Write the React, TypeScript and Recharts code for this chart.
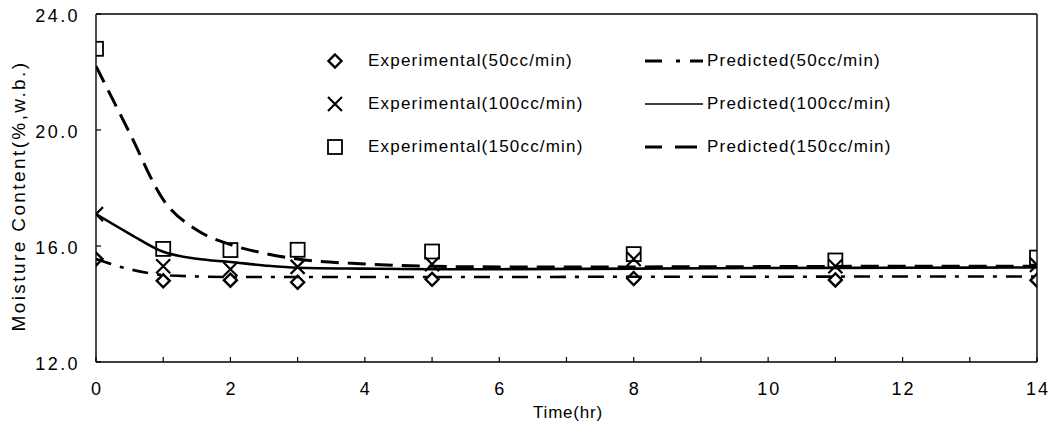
import { ComposedChart, Line, Scatter, XAxis, YAxis, ReferenceLine, Legend } from 'recharts';

// Sampling times (hr) for the measured points
const expTimes = [0, 1, 2, 3, 5, 8, 11, 14];
const exp50 = [15.55, 14.8, 14.82, 14.75, 14.85, 14.88, 14.83, 14.82];
const exp100 = [17.1, 15.3, 15.2, 15.28, 15.37, 15.55, 15.3, 15.35];
const exp150 = [22.8, 15.9, 15.86, 15.87, 15.81, 15.72, 15.5, 15.6];

// Model curves
const predTimes = [0, 0.5, 1, 1.5, 2, 2.5, 3, 4, 5, 6, 8, 10, 12, 14];
const pred50 = [15.55, 15.2, 15.0, 14.95, 14.93, 14.93, 14.93, 14.93, 14.93, 14.93, 14.94, 14.94, 14.95, 14.95];
const pred100 = [17.1, 16.42, 15.8, 15.56, 15.45, 15.33, 15.25, 15.22, 15.2, 15.2, 15.22, 15.24, 15.25, 15.26];
const pred150 = [22.2, 19.9, 17.6, 16.55, 16.05, 15.75, 15.55, 15.38, 15.3, 15.28, 15.28, 15.29, 15.3, 15.3];

const xTicks = [0, 1, 2, 3, 4, 5, 6, 7, 8, 9, 10, 11, 12, 13, 14];
const yTicks = [12, 16, 20, 24];

const expNames = ['Experimental(50cc/min)', 'Experimental(100cc/min)', 'Experimental(150cc/min)'];
const predNames = ['Predicted(50cc/min)', 'Predicted(100cc/min)', 'Predicted(150cc/min)'];

const toPoints = (xs: number[], ys: number[]) => xs.map((x, i) => ({ x, y: ys[i] }));

const FONT = '"Liberation Sans", Arial, sans-serif';

const Diamond = ({ cx, cy }: any) => (
  <polygon
    points={`${cx},${cy - 6.5} ${cx + 6.5},${cy} ${cx},${cy + 6.5} ${cx - 6.5},${cy}`}
    fill="none"
    stroke="#000"
    strokeWidth={2.4}
  />
);

const Cross = ({ cx, cy }: any) => (
  <path
    d={`M${cx - 7},${cy - 7}L${cx + 7},${cy + 7}M${cx + 7},${cy - 7}L${cx - 7},${cy + 7}`}
    stroke="#000"
    strokeWidth={2.2}
  />
);

const Square = ({ cx, cy }: any) => (
  <rect x={cx - 7} y={cy - 7} width={14} height={14} fill="none" stroke="#000" strokeWidth={1.8} />
);

const XTick = ({ x, y, payload }: any) => (
  <g>
    <line x1={x} x2={x} y1={y} y2={y - 5} stroke="#000" strokeWidth={1.2} />
    {payload.value % 2 === 0 && (
      <text x={x + 1} y={y + 27} textAnchor="middle" dominantBaseline="central" fontSize={18} letterSpacing={2} fill="#000" fontFamily={FONT}>
        {payload.value}
      </text>
    )}
  </g>
);

const YTick = ({ x, y, payload }: any) => (
  <g>
    <line x1={x} x2={x + 5} y1={y} y2={y} stroke="#000" strokeWidth={1.2} />
    <text x={80} y={y + 2} textAnchor="end" dominantBaseline="central" fontSize={18} letterSpacing={2.4} fill="#000" fontFamily={FONT}>
      {payload.value.toFixed(1)}
    </text>
  </g>
);

const LegendMarker = ({ idx }: { idx: number }) => (
  <svg width={20} height={20} style={{ display: 'block' }}>
    {idx === 0 && <Diamond cx={10} cy={10} />}
    {idx === 1 && <Cross cx={10} cy={10} />}
    {idx === 2 && <Square cx={10} cy={10} />}
  </svg>
);

const LegendLine = ({ idx }: { idx: number }) => (
  <svg width={60} height={20} style={{ display: 'block' }}>
    {idx === 0 && (
      <g stroke="#000" strokeWidth={3}>
        <line x1={0} x2={17} y1={10} y2={10} />
        <line x1={31} x2={35} y1={10} y2={10} />
        <line x1={45} x2={58} y1={10} y2={10} />
      </g>
    )}
    {idx === 1 && <line x1={0} x2={58} y1={10} y2={10} stroke="#000" strokeWidth={1.6} />}
    {idx === 2 && (
      <g stroke="#000" strokeWidth={3}>
        <line x1={0} x2={17} y1={10} y2={10} />
        <line x1={30} x2={52} y1={10} y2={10} />
      </g>
    )}
  </svg>
);

const LegendBox = () => (
  <div style={{ fontFamily: FONT, fontSize: 17, letterSpacing: 1.2, color: '#000' }}>
    {expNames.map((name, i) => (
      <div key={name} style={{ position: 'relative', height: 43 }}>
        <div style={{ position: 'absolute', left: 0, top: 0 }}>
          <LegendMarker idx={i} />
        </div>
        <div style={{ position: 'absolute', left: 43, top: 0, lineHeight: '20px', whiteSpace: 'nowrap' }}>{name}</div>
        <div style={{ position: 'absolute', left: 320, top: 0 }}>
          <LegendLine idx={i} />
        </div>
        <div style={{ position: 'absolute', left: 382, top: 0, lineHeight: '20px', whiteSpace: 'nowrap' }}>{predNames[i]}</div>
      </div>
    ))}
  </div>
);

export default function App() {
  return (
    <div style={{ position: 'absolute', left: 0, top: 0, background: '#fff' }}>
      <ComposedChart width={1054} height={428} margin={{ top: 14, right: 17, left: 0, bottom: 0 }}>
        <XAxis
          dataKey="x"
          type="number"
          domain={[0, 14]}
          ticks={xTicks}
          interval={0}
          tickSize={0}
          tickMargin={0}
          tick={<XTick />}
          height={66}
          axisLine={{ stroke: '#000', strokeWidth: 1.4 }}
          tickLine={false}
          allowDataOverflow
          label={{
            content: () => (
              <text x={568} y={412} textAnchor="middle" dominantBaseline="central" fontSize={17} letterSpacing={0.8} fontFamily={FONT} fill="#000">
                Time(hr)
              </text>
            ),
          }}
        />
        <YAxis
          dataKey="y"
          type="number"
          domain={[12, 24]}
          ticks={yTicks}
          interval={0}
          tickSize={0}
          tickMargin={0}
          tick={<YTick />}
          width={96}
          axisLine={{ stroke: '#000', strokeWidth: 1.4 }}
          tickLine={false}
          allowDataOverflow
          label={{
            content: () => (
              <text x={18} y={196} transform="rotate(-90 18 196)" textAnchor="middle" dominantBaseline="central" fontSize={19} letterSpacing={2.4} fontFamily={FONT} fill="#000">
                Moisture Content(%,w.b.)
              </text>
            ),
          }}
        />
        <ReferenceLine y={24} stroke="#000" strokeWidth={1.4} />
        <ReferenceLine x={14} stroke="#000" strokeWidth={1.4} />

        <Line data={toPoints(predTimes, pred50)} dataKey="y" type="monotone" stroke="#000" strokeWidth={2.6} strokeDasharray="16 9 4 9" dot={false} isAnimationActive={false} name={predNames[0]} />
        <Line data={toPoints(predTimes, pred100)} dataKey="y" type="monotone" stroke="#000" strokeWidth={2.6} dot={false} isAnimationActive={false} name={predNames[1]} />
        <Line data={toPoints(predTimes, pred150)} dataKey="y" type="monotone" stroke="#000" strokeWidth={3} strokeDasharray="18 9" dot={false} isAnimationActive={false} name={predNames[2]} />

        <Scatter data={toPoints(expTimes, exp50)} dataKey="y" shape={(p: any) => <Diamond cx={p.cx} cy={p.cy} />} isAnimationActive={false} name={expNames[0]} />
        <Scatter data={toPoints(expTimes, exp100)} dataKey="y" shape={(p: any) => <Cross cx={p.cx} cy={p.cy} />} isAnimationActive={false} name={expNames[1]} />
        <Scatter data={toPoints(expTimes, exp150)} dataKey="y" shape={(p: any) => <Square cx={p.cx} cy={p.cy} />} isAnimationActive={false} name={expNames[2]} />

        <Legend
          layout="horizontal"
          verticalAlign="middle"
          align="center"
          content={() => <LegendBox />}
          wrapperStyle={{ position: 'absolute', left: 325, top: 51, width: 600, height: 130 }}
        />
      </ComposedChart>
    </div>
  );
}
